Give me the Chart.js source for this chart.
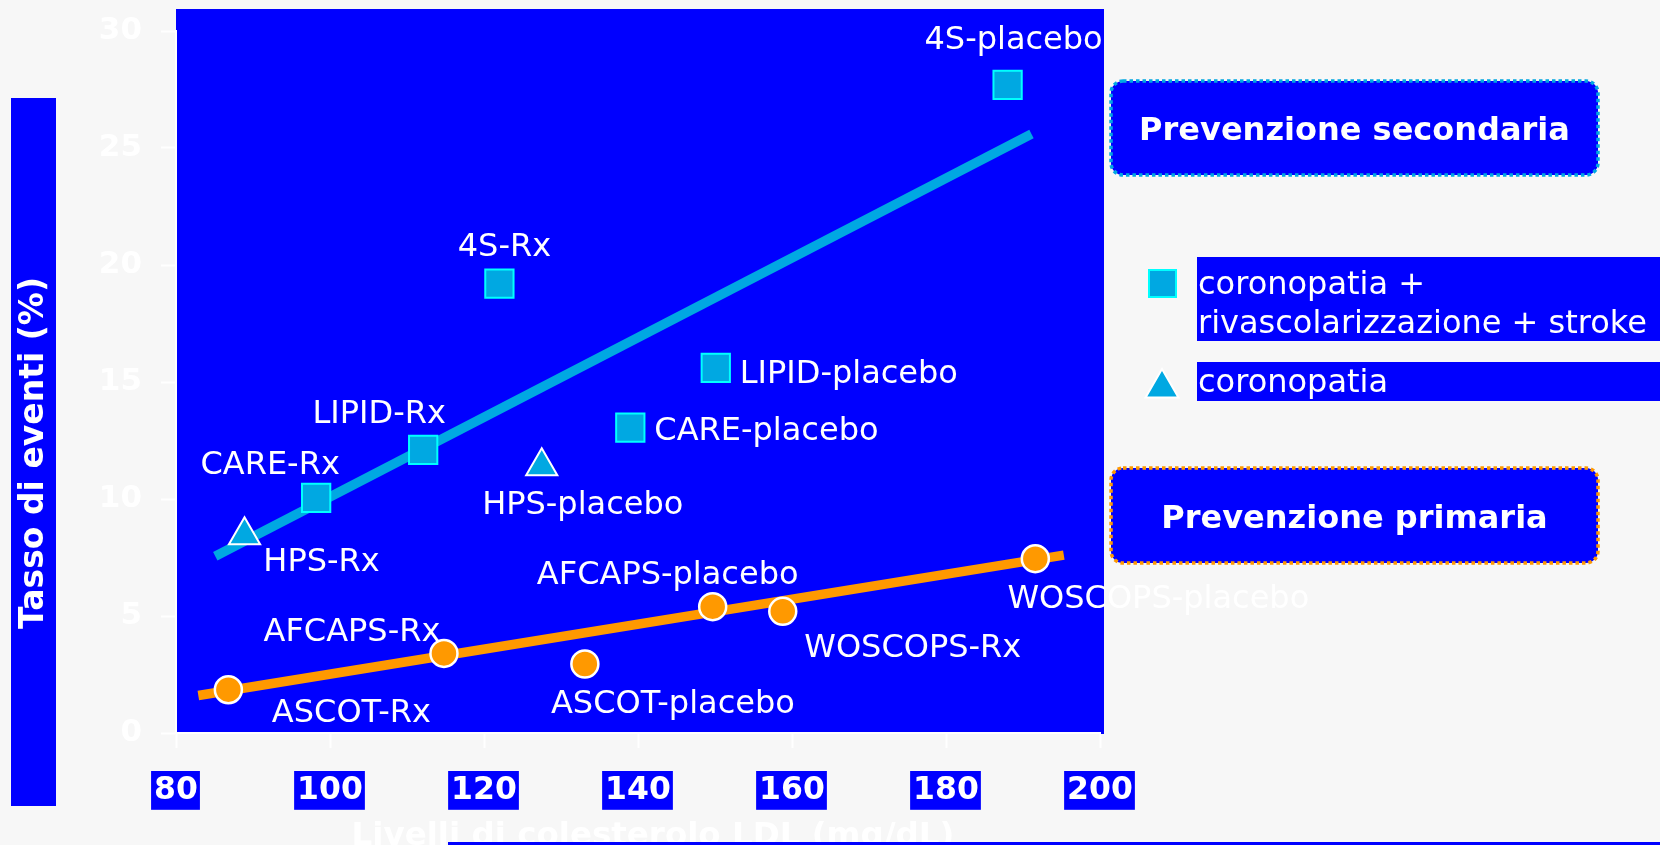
<!DOCTYPE html>
<html lang="it">
<head>
    <meta charset="utf-8" />
    <title>Tasso di eventi e colesterolo LDL</title>
    <script src="https://cdn.jsdelivr.net/npm/chart.js"></script>
    <style>
        html, body {
            margin: 0;
            padding: 0;
            background: #f7f7f7;
        }
        #wrap {
            width: 1660px;
            height: 845px;
        }
    </style>
</head>
<body>
<div id="wrap"><canvas id="ldlChart" width="1660" height="845"></canvas></div>

<script>
    // tick values
    var ldlTicks = [80, 100, 120, 140, 160, 180, 200];
    var rateTicks = [0, 5, 10, 15, 20, 25, 30];

    // prevenzione secondaria: coronopatia + rivascolarizzazione + stroke
    var secNames = ['4S-placebo', '4S-Rx', 'LIPID-placebo', 'CARE-placebo', 'LIPID-Rx', 'CARE-Rx'];
    var secLdl = [188.0, 122.0, 150.1, 139.0, 112.1, 98.2];
    var secRate = [27.7, 19.2, 15.6, 13.05, 12.1, 10.05];

    // coronopatia
    var corNames = ['HPS-Rx', 'HPS-placebo'];
    var corLdl = [88.9, 127.5];
    var corRate = [8.45, 11.4];

    // prevenzione primaria
    var primNames = ['ASCOT-Rx', 'AFCAPS-Rx', 'ASCOT-placebo', 'AFCAPS-placebo', 'WOSCOPS-Rx', 'WOSCOPS-placebo'];
    var primLdl = [86.8, 114.8, 133.1, 149.7, 158.8, 191.6];
    var primRate = [1.85, 3.4, 2.95, 5.4, 5.2, 7.45];

    // regression lines (end points)
    var secFitLdl = [85.1, 191.1];
    var secFitRate = [7.55, 25.6];
    var primFitLdl = [82.9, 195.3];
    var primFitRate = [1.6, 7.6];

    var BLUE = '#0000ff';
    var CYAN = '#00a8e2';
    var ORANGE = '#ff9900';
    var FONT = "'DejaVu Sans', Verdana, sans-serif";

    function pts(xs, ys) {
        var out = [];
        for (var i = 0; i < xs.length; i++) out.push({ x: xs[i], y: ys[i] });
        return out;
    }

    // where each study label sits relative to its marker (px)
    var labelPos = {
        '4S-placebo': [6, -47, 'center'],
        '4S-Rx': [5, -39, 'center'],
        'LIPID-placebo': [24, 4, 'left'],
        'CARE-placebo': [24, 1, 'left'],
        'LIPID-Rx': [-44, -38, 'center'],
        'CARE-Rx': [-46, -35, 'center'],
        'HPS-Rx': [77, 24, 'center'],
        'HPS-placebo': [41, 36, 'center'],
        'AFCAPS-placebo': [-45, -34, 'center'],
        'AFCAPS-Rx': [-92, -24, 'center'],
        'WOSCOPS-placebo': [123, 38, 'center'],
        'WOSCOPS-Rx': [130, 34, 'center'],
        'ASCOT-Rx': [123, 21, 'center'],
        'ASCOT-placebo': [88, 38, 'center']
    };

    var backPlugin = {
        id: 'back',
        beforeDraw: function (chart) {
            var ctx = chart.ctx, a = chart.chartArea;
            ctx.save();
            ctx.fillStyle = '#f7f7f7';
            ctx.fillRect(0, 0, chart.width, chart.height);
            ctx.fillStyle = BLUE;
            ctx.fillRect(a.left, 9, a.right + 4 - a.left, a.bottom + 1 - 9);
            ctx.restore();
        }
    };

    var labelPlugin = {
        id: 'studyLabels',
        afterDatasetsDraw: function (chart) {
            var ctx = chart.ctx;
            ctx.save();
            ctx.fillStyle = '#ffffff';
            ctx.font = '32px ' + FONT;
            ctx.textBaseline = 'middle';
            chart.data.datasets.forEach(function (ds, di) {
                if (!ds.names) return;
                var meta = chart.getDatasetMeta(di);
                meta.data.forEach(function (el, i) {
                    var p = labelPos[ds.names[i]];
                    ctx.textAlign = p[2];
                    ctx.fillText(ds.names[i], el.x + p[0], el.y + p[1] + 3);
                });
            });
            ctx.restore();
        }
    };

    function dottedBox(ctx, x, y, w, h, color, title) {
        ctx.save();
        ctx.beginPath();
        ctx.roundRect(x, y, w, h, 12);
        ctx.fillStyle = BLUE;
        ctx.fill();
        ctx.setLineDash([3.5, 3]);
        ctx.lineWidth = 3.5;
        ctx.strokeStyle = color;
        ctx.stroke();
        ctx.setLineDash([]);
        ctx.fillStyle = '#ffffff';
        ctx.font = 'bold 32px ' + FONT;
        ctx.textAlign = 'center';
        ctx.textBaseline = 'middle';
        ctx.fillText(title, x + w / 2, y + h / 2 + 4);
        ctx.restore();
    }

    var sidePlugin = {
        id: 'side',
        afterDraw: function (chart) {
            var ctx = chart.ctx;
            ctx.save();

            // y axis title
            ctx.fillStyle = BLUE;
            ctx.fillRect(11, 98, 45, 708);
            ctx.translate(34, 453);
            ctx.rotate(-Math.PI / 2);
            ctx.fillStyle = '#ffffff';
            ctx.font = 'bold 33px ' + FONT;
            ctx.textAlign = 'center';
            ctx.textBaseline = 'middle';
            ctx.fillText('Tasso di eventi (%)', 0, 0);
            ctx.setTransform(1, 0, 0, 1, 0, 0);

            // x axis title (runs off the bottom)
            ctx.font = 'bold 32.5px ' + FONT;
            ctx.textBaseline = 'alphabetic';
            ctx.fillStyle = '#ffffff';
            ctx.fillText('Livelli di colesterolo LDL (mg/dL)', 653, 845);
            ctx.fillStyle = BLUE;
            ctx.fillRect(448, 842, 1212, 3);

            // group boxes
            dottedBox(ctx, 1111, 81, 487, 94, CYAN, 'Prevenzione secondaria');
            dottedBox(ctx, 1111, 468, 487, 95, ORANGE, 'Prevenzione primaria');

            // legend rows
            ctx.fillStyle = BLUE;
            ctx.fillRect(1197, 257, 463, 84);
            ctx.fillRect(1197, 362, 463, 39);

            ctx.fillStyle = CYAN;
            ctx.fillRect(1149, 270, 27, 27);
            ctx.lineWidth = 2;
            ctx.strokeStyle = '#00ffff';
            ctx.strokeRect(1149, 270, 27, 27);

            var r = 19, cx = 1162, cy = 388;
            ctx.beginPath();
            ctx.moveTo(cx, cy - r);
            ctx.lineTo(cx + r * 0.866, cy + r / 2);
            ctx.lineTo(cx - r * 0.866, cy + r / 2);
            ctx.closePath();
            ctx.fillStyle = CYAN;
            ctx.fill();
            ctx.strokeStyle = '#ffffff';
            ctx.stroke();

            ctx.fillStyle = '#ffffff';
            ctx.font = '32px ' + FONT;
            ctx.textAlign = 'left';
            ctx.textBaseline = 'middle';
            ctx.fillText('coronopatia +', 1198, 286);
            ctx.fillText('rivascolarizzazione + stroke', 1198, 325);
            ctx.fillText('coronopatia', 1198, 384);

            ctx.restore();
        }
    };

    var ctx = document.getElementById('ldlChart').getContext('2d');

    var ldlChart = new Chart(ctx, {
        type: 'scatter',
        data: {
            datasets: [{
                label: 'coronopatia + rivascolarizzazione + stroke',
                names: secNames,
                data: pts(secLdl, secRate),
                pointStyle: 'rect',
                pointRadius: 20,
                backgroundColor: CYAN,
                borderColor: '#00ffff',
                borderWidth: 2,
                order: 1
            }, {
                label: 'coronopatia',
                names: corNames,
                data: pts(corLdl, corRate),
                pointStyle: 'triangle',
                pointRadius: 18,
                backgroundColor: CYAN,
                borderColor: '#ffffff',
                borderWidth: 2,
                order: 1
            }, {
                label: 'Prevenzione primaria',
                names: primNames,
                data: pts(primLdl, primRate),
                pointStyle: 'circle',
                pointRadius: 13.5,
                backgroundColor: ORANGE,
                borderColor: '#ffffff',
                borderWidth: 2.5,
                order: 1
            }, {
                label: 'fit secondaria',
                data: pts(secFitLdl, secFitRate),
                showLine: true,
                borderColor: CYAN,
                borderWidth: 9.5,
                pointRadius: 0,
                order: 5
            }, {
                label: 'fit primaria',
                data: pts(primFitLdl, primFitRate),
                showLine: true,
                borderColor: ORANGE,
                borderWidth: 9.5,
                pointRadius: 0,
                order: 5
            }]
        },
        options: {
            responsive: false,
            animation: false,
            events: [],
            clip: false,
            layout: {
                padding: { top: 31, right: 560, left: 0, bottom: 0 }
            },
            plugins: {
                legend: { display: false },
                tooltip: { enabled: false }
            },
            scales: {
                x: {
                    type: 'linear',
                    min: 80,
                    max: 200,
                    afterBuildTicks: function (scale) {
                        scale.ticks = ldlTicks.map(function (v) { return { value: v }; });
                    },
                    afterFit: function (scale) {
                        scale.height = 112;
                        scale.paddingLeft = 0;
                        scale.paddingRight = 0;
                    },
                    grid: {
                        drawOnChartArea: false,
                        drawTicks: true,
                        tickLength: 15,
                        tickWidth: 2,
                        color: '#ffffff'
                    },
                    border: { display: true, color: '#ffffff', width: 2 },
                    ticks: {
                        color: '#ffffff',
                        font: { family: FONT, size: 31.5, weight: 'bold' },
                        padding: 24,
                        maxRotation: 0,
                        showLabelBackdrop: true,
                        backdropColor: BLUE,
                        backdropPadding: { left: 3, right: 2, top: 1, bottom: 0 }
                    }
                },
                y: {
                    type: 'linear',
                    min: 0,
                    max: 30,
                    afterBuildTicks: function (scale) {
                        scale.ticks = rateTicks.map(function (v) { return { value: v }; });
                    },
                    afterFit: function (scale) {
                        scale.width = 176;
                        scale.paddingTop = 0;
                        scale.paddingBottom = 0;
                    },
                    grid: {
                        drawOnChartArea: false,
                        drawTicks: true,
                        tickLength: 15,
                        tickWidth: 2,
                        color: '#ffffff'
                    },
                    border: { display: true, color: '#ffffff', width: 2 },
                    ticks: {
                        color: '#ffffff',
                        font: { family: FONT, size: 31, weight: 'bold' },
                        padding: 19
                    }
                }
            }
        },
        plugins: [backPlugin, labelPlugin, sidePlugin]
    });
</script>
</body>
</html>
